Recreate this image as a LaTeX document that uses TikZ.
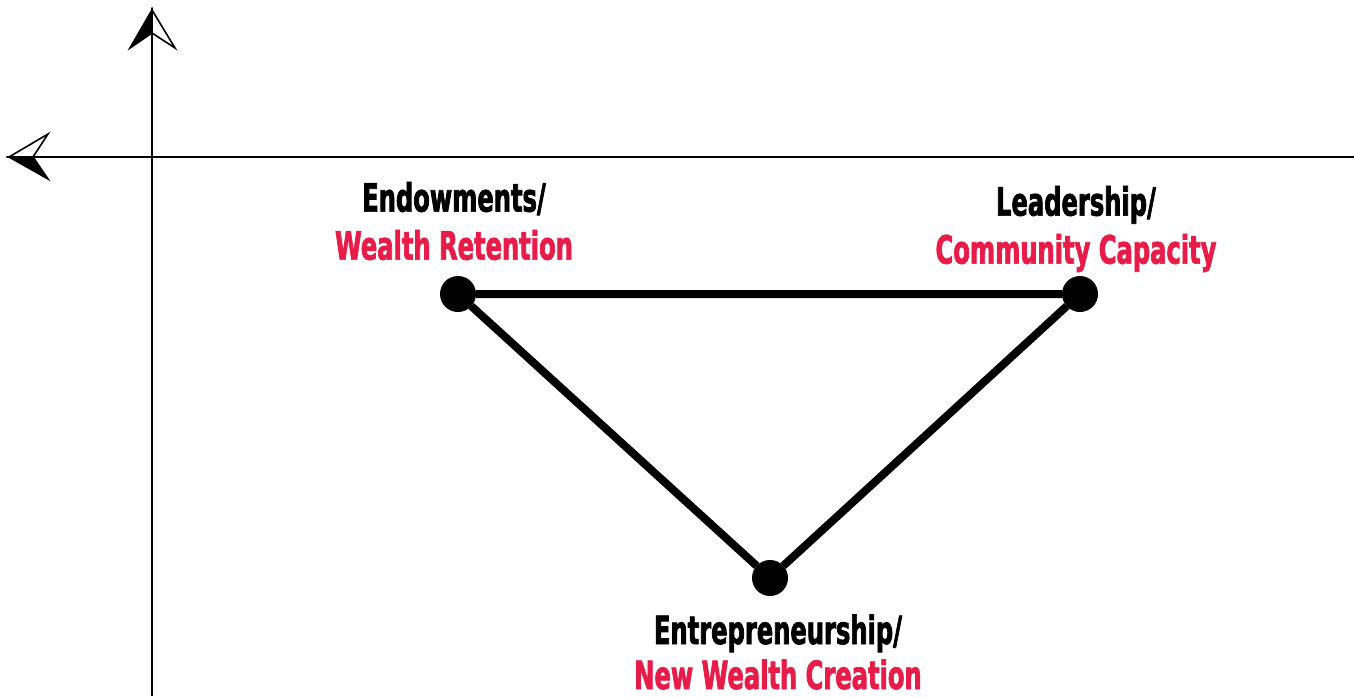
\documentclass[tikz,border=0pt]{standalone}
\usepackage{fontspec}
\usetikzlibrary{positioning}
\setmainfont{DejaVu Sans}[FakeStretch=0.62,FakeBold=1.8]
\definecolor{labelred}{RGB}{232,28,72}

\begin{document}
\begin{tikzpicture}[x=0.5pt,y=-0.5pt,
  dot/.style={circle,fill=black,inner sep=0pt,outer sep=0pt,minimum size=18pt},
  lbl/.style={align=center,inner sep=0pt,text depth=0pt,font=\fontsize{19.5}{24}\selectfont\bfseries},
  link/.style={line width=4pt},
  axis/.style={line width=1pt},
  tip/.style={line width=0.8pt,line join=miter}]
  \useasboundingbox (0,0) rectangle (1354,696);
  % axes, with split arrow heads
  \draw[axis] (152,696) -- (152,33);
  \draw[axis] (1354,157) -- (33,157);
  \filldraw[tip] (152,10) -- (130,48) -- (152,33) -- cycle;
  \draw[tip,fill=white] (152,10) -- (175,48) -- (152,33) -- cycle;
  \draw[tip,fill=white] (9,157) -- (48,134) -- (33,157) -- cycle;
  \filldraw[tip] (9,157) -- (48,179) -- (33,157) -- cycle;

  \node[dot] (n0) at (458,294) {};
  \node[dot] (n1) at (1080,294) {};
  \node[dot] (n2) at (770,578) {};
  \path[link,draw] (n0) -- (n1)
                   (n1) -- (n2)
                   (n2) -- (n0);

  \node[lbl,above=8pt of n0,xshift=-2pt] (t0) {Endowments/\\\textcolor{labelred}{Wealth Retention}};
  \node[lbl,above=6pt of n1,xshift=-2pt] (t1) {Leadership/\\\textcolor{labelred}{Community Capacity}};
  \node[lbl,below=9pt of n2,xshift=4pt,font=\fontsize{19.5}{22.5}\selectfont\bfseries] (t2) {Entrepreneurship/\\\textcolor{labelred}{New Wealth Creation}};
\end{tikzpicture}
\end{document}
